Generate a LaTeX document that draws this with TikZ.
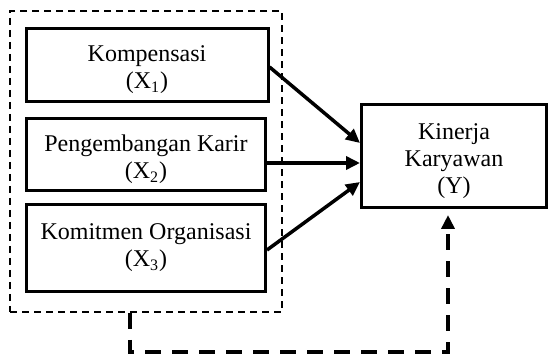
\documentclass[tikz,border=0pt]{standalone}
\usepackage{fontspec}
\setmainfont{Liberation Serif}
\usepackage{tikz}
\usetikzlibrary{arrows.meta}
\newcommand{\vgap}{\rule{0pt}{13pt}}

\begin{document}
\begin{tikzpicture}[x=0.5pt,y=-0.5pt]
\tikzstyle{var}=[draw,line width=1.5pt,align=center,inner sep=0pt,font=\fontsize{12pt}{13.5pt}\selectfont]
\tikzstyle{group}=[draw,line width=1pt,dash pattern=on 3.5pt off 2.5pt,inner sep=0pt]
\tikzstyle{link}=[line width=1.75pt,-{Triangle[length=7pt,width=6.5pt]}]
\useasboundingbox (0,0) rectangle (549,356);
\node[group,minimum width=136pt,minimum height=150.5pt] (grp) at (146,161.5) {};
\foreach \name/\point/\w/\h/\txt in {
	x1/{147,65}/121/36.5/{\vgap Kompensasi\\(X\textsubscript{1})},
	x2/{146,154.5}/119.5/36/{\vgap Pengembangan Karir\\(X\textsubscript{2})},
	x3/{146,248}/119.5/43.5/{Komitmen Organisasi\\(X\textsubscript{3})},
	y/{454,156}/92.5/51.5/{\vgap Kinerja\\Karyawan\\(Y)}}
	\node[var,minimum width=\w pt,minimum height=\h pt] (\name) at (\point) {\txt};
\draw[link] ([yshift=-1pt]x1.east) -- ([yshift=6.5pt]y.west);
\draw[link] ([yshift=-4.25pt]x2.east) -- ([yshift=-3.5pt]y.west);
\draw[link] ([yshift=-1pt]x3.east) -- ([yshift=-13pt]y.west);
\draw[link,dash pattern=on 8pt off 5.5pt] ([xshift=-8pt]grp.south) -- ++(0,39) -| ([xshift=-3pt,yshift=-3pt]y.south);
\end{tikzpicture}
\end{document}
